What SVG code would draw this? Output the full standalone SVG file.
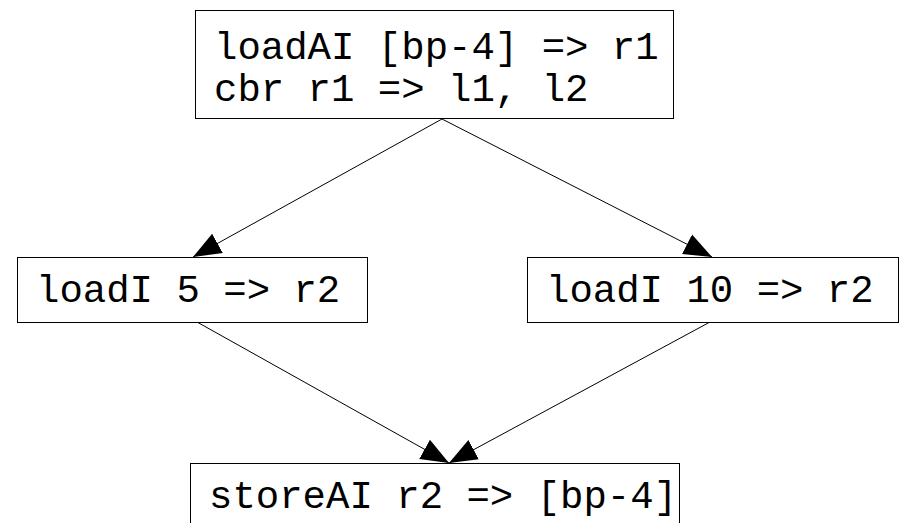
<svg xmlns="http://www.w3.org/2000/svg" width="900" height="523" viewBox="0 0 900 523">
<defs>
<style>
.box{fill:#fff;stroke:#000;stroke-width:1}
.t{font-family:"Liberation Mono","DejaVu Sans Mono",monospace;font-size:39px;fill:#000}
.e{stroke:#000;stroke-width:1;fill:none}
</style>
<marker id="ah" markerUnits="userSpaceOnUse" markerWidth="30" markerHeight="26" viewBox="0 -13 30 26" refX="28" refY="0" orient="auto">
<path d="M0,-11 L28,0 L0,11 z" fill="#000"/>
</marker>
</defs>
<rect width="900" height="523" fill="#fff"/>
<g id="edges">
<line class="e" x1="442" y1="119" x2="193" y2="257" marker-end="url(#ah)"/>
<line class="e" x1="442" y1="119" x2="712" y2="257" marker-end="url(#ah)"/>
<line class="e" x1="197" y1="322" x2="449" y2="463" marker-end="url(#ah)"/>
<line class="e" x1="710" y1="322" x2="449" y2="463" marker-end="url(#ah)"/>
</g>
<g id="n1">
<rect class="box" x="195.5" y="10.5" width="478" height="108"/>
<text class="t" x="214" y="59">loadAI [bp-4] =&gt; r1</text>
<text class="t" x="214" y="101">cbr r1 =&gt; l1, l2</text>
</g>
<g id="n2">
<rect class="box" x="17.5" y="257.5" width="350" height="65"/>
<text class="t" x="36" y="302">loadI 5 =&gt; r2</text>
</g>
<g id="n3">
<rect class="box" x="527.5" y="257.5" width="371" height="65"/>
<text class="t" x="546" y="302">loadI 10 =&gt; r2</text>
</g>
<g id="n4">
<rect class="box" x="190.5" y="463.5" width="489" height="70"/>
<text class="t" x="209" y="508">storeAI r2 =&gt; [bp-4]</text>
</g>
</svg>
